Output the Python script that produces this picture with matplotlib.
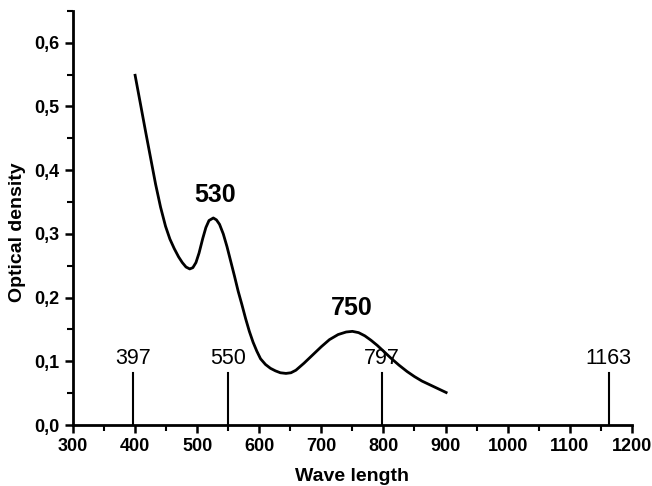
import matplotlib
matplotlib.use("Agg")
from matplotlib import pyplot as plt
from matplotlib.ticker import MultipleLocator, FuncFormatter

plt.rcParams['font.family'] = ['Liberation Sans', 'DejaVu Sans']

# spectrum
wavelength = [400, 409, 417, 425, 433, 441, 449, 456, 463, 470, 476, 482, 488,
              493, 498, 503, 509, 514, 519, 526, 531, 536, 542, 548, 554, 560,
              566, 572, 578, 584, 590, 596, 602, 610, 618, 626, 634, 643, 651,
              659, 672, 686, 700, 713, 727, 740, 750, 760, 770, 780, 790, 800,
              812, 825, 838, 850, 862, 875, 888, 901]
density = [0.549, 0.502, 0.460, 0.419, 0.378, 0.342, 0.312, 0.292, 0.277, 0.264,
           0.255, 0.248, 0.245, 0.247, 0.255, 0.270, 0.293, 0.310, 0.321, 0.325,
           0.322, 0.315, 0.300, 0.280, 0.257, 0.234, 0.210, 0.189, 0.167, 0.147,
           0.130, 0.116, 0.104, 0.095, 0.089, 0.085, 0.082, 0.081, 0.082, 0.086,
           0.097, 0.110, 0.123, 0.134, 0.142, 0.146, 0.147, 0.145, 0.140, 0.133,
           0.125, 0.116, 0.105, 0.094, 0.084, 0.076, 0.069, 0.063, 0.057, 0.051]

# reference lines
mark_pos = [397, 550, 797, 1163]
mark_labels = ['397', '550', '797', '1163']
mark_height = 0.082

# peak labels
peak_pos = [529, 749]
peak_y = [0.361, 0.183]
peak_labels = ['530', '750']

fig = plt.figure(figsize=(6.52, 4.86), dpi=100)
ax = fig.add_axes([0.112, 0.1255, 0.857, 0.852])

ax.plot(wavelength, density, color='black', lw=2.0)

for x, lab in zip(mark_pos, mark_labels):
    ax.plot([x, x], [0, mark_height], color='black', lw=1.5)
    ax.text(x, mark_height + 0.006, lab, ha='center', va='bottom', fontsize=15.5)

for x, y, lab in zip(peak_pos, peak_y, peak_labels):
    ax.text(x, y, lab, ha='center', va='center', fontsize=18, fontweight='bold')

ax.set_xlim(300, 1200)
ax.set_ylim(0, 0.65)
ax.xaxis.set_major_locator(MultipleLocator(100))
ax.xaxis.set_minor_locator(MultipleLocator(50))
ax.yaxis.set_major_locator(MultipleLocator(0.1))
ax.yaxis.set_minor_locator(MultipleLocator(0.05))
ax.yaxis.set_major_formatter(FuncFormatter(lambda v, p: f"{v:.1f}".replace('.', ',')))

for s in ['top', 'right']:
    ax.spines[s].set_visible(False)
for s in ['left', 'bottom']:
    ax.spines[s].set_linewidth(2)

ax.tick_params(which='major', direction='out', length=6, width=1.8, labelsize=13)
ax.tick_params(which='minor', direction='out', length=4, width=1.5)
for t in ax.get_xticklabels() + ax.get_yticklabels():
    t.set_fontweight('bold')

ax.set_xlabel("Wave length", fontsize=14, fontweight='bold', labelpad=9)
ax.set_ylabel("Optical density", fontsize=14, fontweight='bold')
ax.yaxis.set_label_coords(-0.085, 0.466)

fig.savefig("out.png", dpi=100)
